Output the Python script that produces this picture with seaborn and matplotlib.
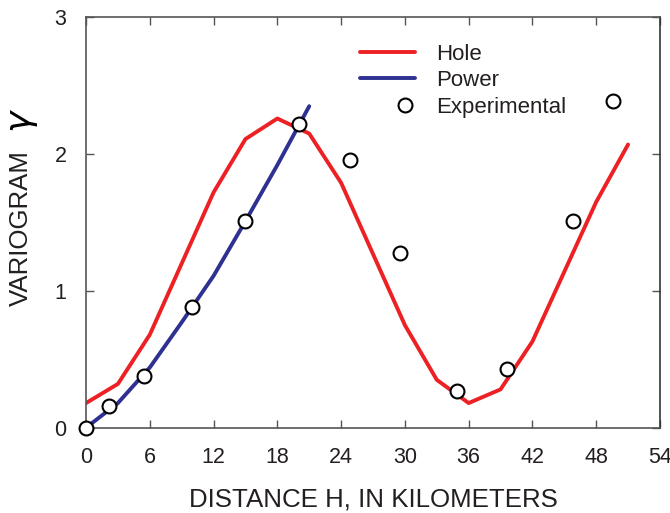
import matplotlib
matplotlib.use("Agg")
import matplotlib.pyplot as plt
import seaborn as sns
import numpy as np
from matplotlib.legend_handler import HandlerBase
from matplotlib.lines import Line2D

# Data
hole_x = [0, 3, 6, 12, 15, 18, 21, 24, 30, 33, 36, 39, 42, 48, 51]
hole_y = [0.18, 0.32, 0.68, 1.72, 2.11, 2.26, 2.15, 1.79, 0.75, 0.35, 0.18, 0.28, 0.63, 1.65, 2.07]

power_x = [0, 3, 6, 9, 12, 15, 18, 21]
power_y = [0.0, 0.18, 0.44, 0.77, 1.11, 1.51, 1.92, 2.35]

exp_x = [0, 2.2, 5.5, 10.0, 15.0, 20.0, 24.8, 29.5, 34.9, 39.6, 45.8, 49.6]
exp_y = [0.0, 0.16, 0.38, 0.88, 1.51, 2.22, 1.96, 1.28, 0.27, 0.43, 1.51, 2.39]

x_ticks = [0, 6, 12, 18, 24, 30, 36, 42, 48, 54]
y_ticks = [0, 1, 2, 3]

sns.set_style("ticks")
FONT = ["Liberation Sans Narrow", "Liberation Sans", "DejaVu Sans"]
plt.rcParams["font.family"] = FONT
TXT = "#231f20"
RED = "#ed2024"
BLUE = "#2e3192"


class RightMarkerHandler(HandlerBase):
    def create_artists(self, legend, orig_handle, xdescent, ydescent,
                       width, height, fontsize, trans):
        line = Line2D([0], [0])
        self.update_prop(line, orig_handle, legend)
        line.set_data([-xdescent + 0.82 * width], [(height - ydescent) / 2])
        line.set_linestyle("none")
        line.set_transform(trans)
        return [line]


fig = plt.figure(figsize=(6.70, 5.13), dpi=100)
ax = fig.add_axes([0.1284, 0.1663, 0.8566, 0.8000])

sns.lineplot(x=hole_x, y=hole_y, ax=ax, color=RED, lw=2.8, sort=False,
             estimator=None, label="Hole", zorder=2)
sns.lineplot(x=power_x, y=power_y, ax=ax, color=BLUE, lw=2.8, sort=False,
             estimator=None, label="Power", zorder=2)
exp_line, = ax.plot(exp_x, exp_y, linestyle="none", marker="o", ms=10,
                    mfc="white", mec="black", mew=1.5, label="Experimental",
                    zorder=3, clip_on=False)

ax.set_xlim(0, 54)
ax.set_ylim(0, 3)
ax.set_xticks(x_ticks)
ax.set_yticks(y_ticks)
ax.set_xticklabels([str(v) for v in x_ticks])
ax.set_yticklabels([str(v) for v in y_ticks])

for s in ax.spines.values():
    s.set_visible(True)
    s.set_color("#555555")
    s.set_linewidth(1.2)
ax.spines["right"].set_color("#333333")

ax.tick_params(axis="both", direction="in", length=5.5, width=1.0,
               color="#555555", top=True, right=True, labelsize=15.5,
               labelcolor=TXT, pad=14)

ax.set_xlabel("DISTANCE H, IN KILOMETERS", fontsize=18.6, color=TXT, labelpad=14)
ax.set_ylabel("VARIOGRAM", fontsize=18.6, color=TXT)
ax.yaxis.set_label_coords(-0.0923, 0.487)
fig.text(23 / 670, 1 - 121 / 513, r"$\gamma$", fontsize=26, rotation=90,
         ha="center", va="center", color="black")

leg = ax.legend(loc="upper left", bbox_to_anchor=(0.477, 0.936), frameon=False,
                fontsize=16, handlelength=2.5, handletextpad=0.95,
                labelspacing=0.25, borderpad=0, borderaxespad=0,
                handler_map={exp_line: RightMarkerHandler()})
for t in leg.get_texts():
    t.set_color(TXT)

fig.savefig("out.png", dpi=100)
